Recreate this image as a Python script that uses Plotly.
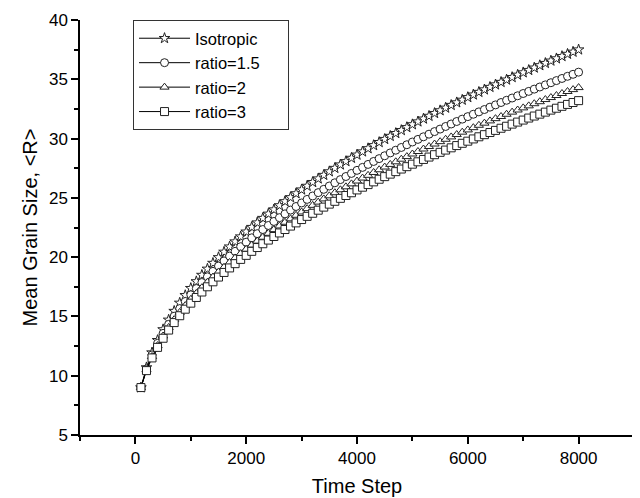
import plotly.graph_objects as go

# time steps (every 100 MC steps, 100..8000)
time_step = list(range(100, 8100, 100))

isotropic = [
    9.00, 10.69, 11.95, 12.99, 13.90, 14.71, 15.45, 16.14, 16.78, 17.38,
    17.95, 18.49, 19.01, 19.50, 19.98, 20.44, 20.88, 21.31, 21.73, 22.14,
    22.53, 22.91, 23.29, 23.65, 24.01, 24.36, 24.70, 25.04, 25.37, 25.69,
    26.00, 26.32, 26.62, 26.92, 27.22, 27.51, 27.80, 28.08, 28.36, 28.63,
    28.90, 29.17, 29.43, 29.69, 29.95, 30.21, 30.45, 30.70, 30.95, 31.19,
    31.43, 31.67, 31.90, 32.14, 32.37, 32.59, 32.82, 33.04, 33.26, 33.48,
    33.70, 33.92, 34.13, 34.34, 34.55, 34.76, 34.96, 35.17, 35.37, 35.57,
    35.77, 35.97, 36.17, 36.36, 36.56, 36.75, 36.94, 37.13, 37.31, 37.50,
]
ratio_15 = [
    9.00, 10.57, 11.75, 12.73, 13.57, 14.33, 15.02, 15.66, 16.26, 16.82,
    17.35, 17.86, 18.34, 18.80, 19.25, 19.68, 20.09, 20.49, 20.88, 21.26,
    21.63, 21.98, 22.33, 22.67, 23.01, 23.33, 23.65, 23.97, 24.27, 24.57,
    24.87, 25.16, 25.44, 25.72, 26.00, 26.27, 26.54, 26.80, 27.06, 27.32,
    27.57, 27.82, 28.07, 28.31, 28.55, 28.79, 29.02, 29.25, 29.48, 29.71,
    29.93, 30.15, 30.37, 30.59, 30.80, 31.02, 31.23, 31.44, 31.64, 31.85,
    32.05, 32.25, 32.45, 32.65, 32.84, 33.04, 33.23, 33.42, 33.61, 33.80,
    33.98, 34.17, 34.35, 34.53, 34.71, 34.89, 35.07, 35.25, 35.42, 35.60,
]
ratio_2 = [
    9.00, 10.50, 11.62, 12.54, 13.35, 14.07, 14.73, 15.34, 15.91, 16.44,
    16.94, 17.42, 17.88, 18.32, 18.75, 19.15, 19.55, 19.93, 20.30, 20.66,
    21.01, 21.35, 21.68, 22.01, 22.32, 22.63, 22.94, 23.23, 23.53, 23.81,
    24.09, 24.37, 24.64, 24.91, 25.17, 25.43, 25.68, 25.93, 26.18, 26.42,
    26.67, 26.90, 27.14, 27.37, 27.60, 27.82, 28.04, 28.26, 28.48, 28.70,
    28.91, 29.12, 29.33, 29.54, 29.74, 29.94, 30.14, 30.34, 30.54, 30.73,
    30.92, 31.12, 31.30, 31.49, 31.68, 31.86, 32.05, 32.23, 32.41, 32.59,
    32.76, 32.94, 33.11, 33.29, 33.46, 33.63, 33.80, 33.97, 34.13, 34.30,
]
ratio_3 = [
    9.00, 10.43, 11.50, 12.39, 13.16, 13.85, 14.48, 15.06, 15.61, 16.12,
    16.60, 17.06, 17.50, 17.92, 18.32, 18.71, 19.09, 19.45, 19.81, 20.15,
    20.49, 20.81, 21.13, 21.44, 21.74, 22.04, 22.33, 22.62, 22.89, 23.17,
    23.44, 23.70, 23.96, 24.22, 24.47, 24.71, 24.96, 25.20, 25.43, 25.67,
    25.90, 26.12, 26.35, 26.57, 26.79, 27.00, 27.21, 27.43, 27.63, 27.84,
    28.04, 28.24, 28.44, 28.64, 28.84, 29.03, 29.22, 29.41, 29.60, 29.78,
    29.97, 30.15, 30.33, 30.51, 30.69, 30.87, 31.04, 31.22, 31.39, 31.56,
    31.73, 31.90, 32.06, 32.23, 32.40, 32.56, 32.72, 32.88, 33.04, 33.20,
]

series_names = ["Isotropic", "ratio=1.5", "ratio=2", "ratio=3"]
series_values = [isotropic, ratio_15, ratio_2, ratio_3]
symbols = ["star", "circle", "triangle-up", "square"]
sizes = [8, 8, 8, 8]

x_ticks = [0, 2000, 4000, 6000, 8000]
x_minor = [-1000, 1000, 3000, 5000, 7000, 9000]
y_ticks = [5, 10, 15, 20, 25, 30, 35, 40]
y_minor = [7.5, 12.5, 17.5, 22.5, 27.5, 32.5, 37.5]

FONT = "Liberation Sans, Arial, sans-serif"
PAD = "\u00a0" * 5  # widens the legend box a little, like the original

fig = go.Figure()
for name, vals, sym, sz in zip(series_names, series_values, symbols, sizes):
    fig.add_trace(go.Scatter(
        x=time_step, y=vals, name=name + PAD,
        mode="lines+markers",
        line=dict(color="black", width=1),
        marker=dict(symbol=sym, size=sz, color="white",
                    line=dict(color="#222", width=1)),
    ))

axis_common = dict(
    showline=True, linecolor="black", linewidth=1.5,
    ticks="outside", ticklen=7, tickwidth=1.5, tickcolor="black",
    showgrid=False, zeroline=False, mirror=False, automargin=False,
    tickfont=dict(family=FONT, size=17, color="black"),
)

fig.update_xaxes(
    range=[-1000, 9000], tickmode="array", tickvals=x_ticks,
    ticktext=[str(v) for v in x_ticks],
    minor=dict(tickmode="array", tickvals=x_minor, ticklen=4,
               tickwidth=1.5, tickcolor="black", ticks="outside"),
    title=dict(text="Time Step", font=dict(family=FONT, size=20, color="black"),
               standoff=12),
    **axis_common,
)
fig.update_yaxes(
    range=[5, 40], tickmode="array", tickvals=y_ticks,
    minor=dict(tickmode="array", tickvals=y_minor, ticklen=4,
               tickwidth=1.5, tickcolor="black", ticks="outside"),
    title=dict(text="Mean Grain Size, &lt;R&gt;",
               font=dict(family=FONT, size=20, color="black"), standoff=6),
    **axis_common,
)

# the page body adds an 8px margin, so the figure is sized 8px smaller
fig.update_layout(
    width=632, height=490,
    margin=dict(l=72, r=6, t=12, b=63),
    plot_bgcolor="white", paper_bgcolor="white",
    font=dict(family=FONT, color="black"),
    legend=dict(
        x=0.0957, y=1, xanchor="left", yanchor="top",
        bordercolor="#333", borderwidth=1, bgcolor="white",
        font=dict(family=FONT, size=16.5, color="black"),
        tracegroupgap=0, itemwidth=51,
    ),
)

fig.write_html("out.html")
